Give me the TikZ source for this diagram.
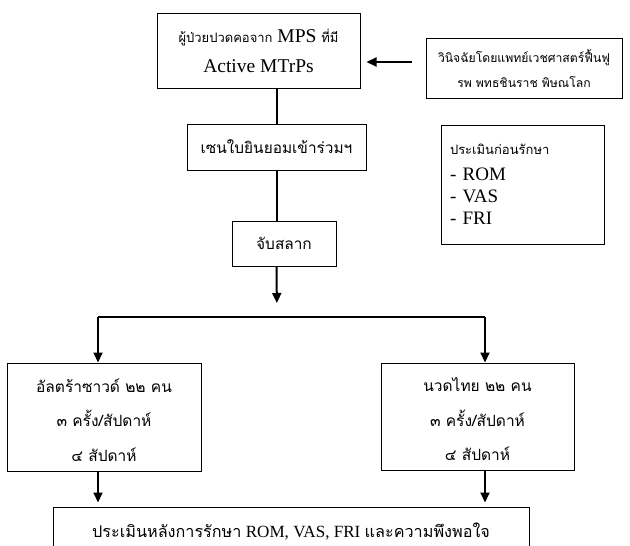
\documentclass[tikz,border=0pt]{standalone}
\usepackage{fontspec}
\setmainfont{Liberation Serif}
\newfontfamily\thaifont[Script=Thai]{Loma}
\usepackage{tikz}
\usetikzlibrary{arrows.meta,positioning,calc}
\newcommand{\tha}[2][13]{{\fontsize{#1}{30}\thaifont #2}}

\begin{document}
\begin{tikzpicture}[
  x=1pt, y=-1pt,
  box/.style={draw, line width=1pt, align=center, inner sep=0pt},
  link/.style={line width=2pt},
  arrow/.style={-{Triangle[length=10pt,width=9pt]}, line width=2pt},
  every node/.style={font=\fontsize{19.5}{30}\selectfont},
]
\clip (0,0) rectangle (630,546);

% Boxes (top to bottom)
\node[box, minimum width=203, minimum height=75] (patient) at (258.5,50.5)
  {\tha{ผู้ป่วยปวดคอจาก} MPS \tha{ที่มี}\\ Active MTrPs};
\node[box, minimum width=196, minimum height=60, font=\fontsize{12.2}{25}\selectfont] (diag) at (524,68)
  {\rule{0pt}{14pt}\thaifont วินิจฉัยโดยแพทย์เวชศาสตร์ฟื้นฟู\\ \thaifont รพ พทธชินราช พิษณโลก};
\node[box, minimum width=179, minimum height=46] (consent) at (276.5,147)
  {\tha[15.4]{เซนใบยินยอมเข้าร่วมฯ}};
\node[box, minimum width=104, minimum height=45] (lottery) at (284,243.5)
  {\tha[15.4]{จับสลาก}};
\node[box, minimum width=163, minimum height=119, align=left, text width=145,
      font=\fontsize{19}{22}\selectfont] (pre) at (522.5,184.5)
  {\tha[13]{ประเมินก่อนรักษา}\\[4pt] - ROM\\ - VAS\\ - FRI};

% Treatment groups
\node[box, minimum width=194, minimum height=108, font=\fontsize{15.5}{34.5}\selectfont] (ultra) at (104,417)
  {\rule{0pt}{20pt}\thaifont อัลตร้าซาวด์ ๒๒ คน\\ \thaifont ๓ ครั้ง/สัปดาห์\\ \thaifont ๔ สัปดาห์};
\node[box, minimum width=193, minimum height=107, font=\fontsize{15.5}{34.5}\selectfont] (massage) at (477.5,416.5)
  {\rule{0pt}{20pt}\thaifont นวดไทย ๒๒ คน\\ \thaifont ๓ ครั้ง/สัปดาห์\\ \thaifont ๔ สัปดาห์};
\node[box, minimum width=476, minimum height=50, font=\fontsize{17.1}{30}\selectfont] (post) at (291,532)
  {\tha[16.2]{ประเมินหลังการรักษา} ROM, VAS, FRI \tha[16.2]{และความพึงพอใจ}};

% Split points
\coordinate (split) at (277,317);
\coordinate (lsplit) at (98,317);
\coordinate (rsplit) at (485,317);

% Arrows
\draw[arrow, shorten <=14pt, shorten >=6pt] (diag.west |- 0,62) -- (patient.east |- 0,62);
\draw[link] (consent.north |- patient.south) -- (consent.north);
\draw[link] (consent.south) -- (consent.south |- lottery.north);
\draw[arrow, shorten >=14pt] (consent.south |- lottery.south) -- (split);
\draw[link] (lsplit) -- (rsplit);
\draw[arrow] (lsplit) -- (lsplit |- ultra.north);
\draw[arrow] (rsplit) -- (rsplit |- massage.north);
\draw[arrow, shorten >=4pt] (lsplit |- ultra.south) -- (lsplit |- post.north);
\draw[arrow, shorten >=4pt] (rsplit |- massage.south) -- (rsplit |- post.north);

\end{tikzpicture}
\end{document}
